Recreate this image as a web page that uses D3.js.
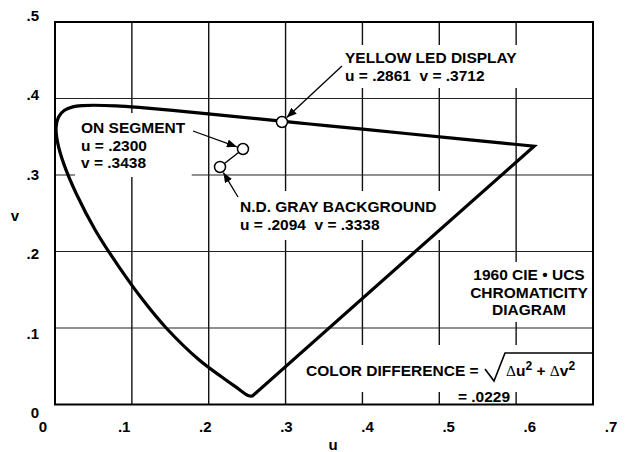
<!DOCTYPE html>
<html>
<head>
<meta charset="utf-8">
<script src="https://cdn.jsdelivr.net/npm/d3@7"></script>
<style>
body { margin: 0; background: #fff; }
text { font-family: "Liberation Sans", Arial, sans-serif; font-weight: bold; font-size: 15px; fill: #000; }
.note text { font-size: 15.5px; }
</style>
</head>
<body>
<svg id="chart" width="628" height="452"></svg>
<script>
// spectral locus, 380 nm .. 700 nm (1960 CIE-UCS u, v)
var locusU = [0.2568, 0.2522, 0.2347, 0.2161, 0.1877, 0.1441, 0.1147, 0.0828, 0.0521, 0.0282, 0.0119, 0.0035, 0.0014,
	0.0046, 0.0123, 0.0231, 0.0360, 0.0501, 0.0792, 0.1127, 0.1531, 0.2026, 0.2623, 0.3315, 0.4035, 0.5203, 0.5830, 0.6234];
var locusV = [0.0111, 0.0113, 0.0233, 0.0366, 0.0581, 0.1007, 0.1362, 0.1806, 0.2285, 0.2745, 0.3132, 0.3420, 0.3621,
	0.3759, 0.3846, 0.3891, 0.3908, 0.3912, 0.3904, 0.3880, 0.3844, 0.3796, 0.3736, 0.3667, 0.3596, 0.3479, 0.3417, 0.3377];

// plotted points, as drawn: yellow LED, on segment, N.D. gray background
var pointNames = ["YELLOW LED DISPLAY", "ON SEGMENT", "N.D. GRAY BACKGROUND"];
var pointU = [0.2953, 0.2446, 0.2147];
var pointV = [0.3693, 0.3340, 0.3105];

var xTicks = [0, 0.1, 0.2, 0.3, 0.4, 0.5, 0.6, 0.7];
var xTickLabels = ["0", ".1", ".2", ".3", ".4", ".5", ".6", ".7"];
var yTicks = [0, 0.1, 0.2, 0.3, 0.4, 0.5];
var yTickLabels = ["0", ".1", ".2", ".3", ".4", ".5"];

var yellowLines = ["YELLOW LED DISPLAY", "u = .2861  v = .3712"];
var onLines = ["ON SEGMENT", "u = .2300", "v = .3438"];
var grayLines = ["N.D. GRAY BACKGROUND", "u = .2094  v = .3338"];
var titleLines = ["1960 CIE \u2022 UCS", "CHROMATICITY", "DIAGRAM"];
var colorDiff = ".0229";

var svg = d3.select("#chart");

var x = d3.scaleLinear().domain([0, 0.7]).range([55, 593]);
var y = d3.scaleLinear().domain([0, 0.5]).range([404.5, 22]);
// the printed tick labels sit on a slightly wider spacing than the grid
var xLab = d3.scaleLinear().domain([0, 0.7]).range([43, 611]);
var yLab = d3.scaleLinear().domain([0, 0.5]).range([413, 16]);

var defs = svg.append("defs");
defs.append("marker")
	.attr("id", "arrow")
	.attr("markerUnits", "userSpaceOnUse")
	.attr("markerWidth", 11).attr("markerHeight", 8)
	.attr("refX", 10).attr("refY", 4)
	.attr("orient", "auto")
	.append("path")
	.attr("d", "M0,0 L10,4 L0,8 z")
	.style("fill", "#000");

var gridG = svg.append("g");
var boxG = svg.append("g");
var plotG = svg.append("g");
var textG = svg.append("g").attr("class", "note");

// grid
gridG.selectAll(".vgrid")
	.data(xTicks.slice(1, -1))
	.enter().append("line")
	.attr("class", "vgrid")
	.attr("x1", function(d) { return x(d); })
	.attr("x2", function(d) { return x(d); })
	.attr("y1", y(0))
	.attr("y2", y(0.5))
	.style("stroke", "#111")
	.style("stroke-width", 1.4);

gridG.selectAll(".hgrid")
	.data(yTicks.slice(1, -1))
	.enter().append("line")
	.attr("class", "hgrid")
	.attr("x1", x(0))
	.attr("x2", x(0.7))
	.attr("y1", function(d) { return y(d); })
	.attr("y2", function(d) { return y(d); })
	.style("stroke", "#222")
	.style("stroke-width", 1.2);

// tick labels
svg.selectAll(".xlab")
	.data(xTicks)
	.enter().append("text")
	.attr("class", "xlab")
	.attr("x", function(d) { return xLab(d); })
	.attr("y", 432)
	.attr("text-anchor", "middle")
	.text(function(d, i) { return xTickLabels[i]; });

svg.selectAll(".ylab")
	.data(yTicks)
	.enter().append("text")
	.attr("class", "ylab")
	.attr("x", 39)
	.attr("y", function(d) { return yLab(d) + 5; })
	.attr("text-anchor", "end")
	.text(function(d, i) { return yTickLabels[i]; });

svg.append("text").attr("x", 333).attr("y", 450).attr("text-anchor", "middle").text("u");
svg.append("text").attr("x", 15).attr("y", 221).attr("text-anchor", "middle").text("v");

// frame
plotG.append("rect")
	.attr("x", x(0))
	.attr("y", y(0.5))
	.attr("width", x(0.7) - x(0))
	.attr("height", y(0) - y(0.5))
	.style("fill", "none")
	.style("stroke", "#000")
	.style("stroke-width", 2);

// locus plus purple line
var locusPts = locusU.map(function(u, i) { return [x(u), y(locusV[i])]; });
var locusLine = d3.line().curve(d3.curveCatmullRom.alpha(0.5));
plotG.append("path")
	.attr("d", locusLine(locusPts) + "Z")
	.style("fill", "none")
	.style("stroke", "#000")
	.style("stroke-width", 3.2)
	.style("stroke-linejoin", "miter");

// link between on segment and background
plotG.append("line")
	.attr("x1", x(pointU[1])).attr("y1", y(pointV[1]))
	.attr("x2", x(pointU[2])).attr("y2", y(pointV[2]))
	.style("stroke", "#000")
	.style("stroke-width", 1.4);

plotG.selectAll(".pt")
	.data(pointNames)
	.enter().append("circle")
	.attr("class", "pt")
	.attr("cx", function(d, i) { return x(pointU[i]); })
	.attr("cy", function(d, i) { return y(pointV[i]); })
	.attr("r", 5.5)
	.style("fill", "#fff")
	.style("stroke", "#000")
	.style("stroke-width", 1.5);

// arrows from label to point
var arrowTails = [[342, 66], [193, 131], [238, 197]];
arrowTails.forEach(function(t, i) {
	var cx = x(pointU[i]), cy = y(pointV[i]);
	var dx = t[0] - cx, dy = t[1] - cy;
	var len = Math.sqrt(dx * dx + dy * dy);
	plotG.append("line")
		.attr("x1", t[0]).attr("y1", t[1])
		.attr("x2", cx + dx / len * 6.5).attr("y2", cy + dy / len * 6.5)
		.style("stroke", "#000")
		.style("stroke-width", 1.3)
		.attr("marker-end", "url(#arrow)");
});

// text block with a white knockout behind it
function addBlock(lines, x0, y0, lineH, anchor, pad) {
	var g = textG.append("g");
	g.selectAll("text")
		.data(lines)
		.enter().append("text")
		.attr("x", x0)
		.attr("y", function(d, i) { return y0 + i * lineH; })
		.attr("text-anchor", anchor)
		.style("white-space", "pre")
		.text(function(d) { return d; });
	var bb = g.node().getBBox();
	boxG.append("rect")
		.attr("x", bb.x - pad)
		.attr("y", bb.y - pad)
		.attr("width", bb.width + 2 * pad)
		.attr("height", bb.height + 2 * pad)
		.style("fill", "#fff");
	return g;
}

addBlock(yellowLines, 345, 63, 18, "start", 4);
addBlock(onLines, 81, 133, 17.5, "start", 6);
addBlock(grayLines, 240, 212, 18, "start", 7);
addBlock(titleLines, 529, 280, 17.5, "middle", 4);

// color difference formula
var cdG = textG.append("g");
cdG.append("text").attr("x", 306).attr("y", 376).text("COLOR DIFFERENCE =");
var fx = 506;
var formula = cdG.append("text").attr("x", fx).attr("y", 376);
formula.append("tspan").style("font-family", "'Liberation Serif', serif").style("font-weight", "normal").text("\u0394");
formula.append("tspan").text("u");
formula.append("tspan").attr("dy", -6).style("font-size", "12px").text("2");
formula.append("tspan").attr("dy", 6).style("white-space", "pre").text(" + ");
formula.append("tspan").style("font-family", "'Liberation Serif', serif").style("font-weight", "normal").text("\u0394");
formula.append("tspan").text("v");
formula.append("tspan").attr("dy", -6).style("font-size", "12px").text("2");

cdG.append("path")
	.attr("d", "M" + (fx - 21) + ",369 L" + (fx - 12) + ",381 L" + (fx - 1) + ",353 L" + x(0.7) + ",353")
	.style("fill", "none")
	.style("stroke", "#000")
	.style("stroke-width", 1.6);

var cdBox = cdG.node().getBBox();
boxG.append("rect")
	.attr("x", cdBox.x - 4)
	.attr("y", 345)
	.attr("width", x(0.7) - cdBox.x + 4)
	.attr("height", 392 - 345)
	.style("fill", "#fff");

var resG = textG.append("g");
resG.append("text")
	.attr("x", 484)
	.attr("y", 402)
	.attr("text-anchor", "middle")
	.style("white-space", "pre")
	.text("= " + colorDiff);
var rb = resG.node().getBBox();
boxG.append("rect")
	.attr("x", rb.x - 3)
	.attr("y", 390)
	.attr("width", rb.width + 6)
	.attr("height", y(0) - 390)
	.style("fill", "#fff");
</script>
</body>
</html>
